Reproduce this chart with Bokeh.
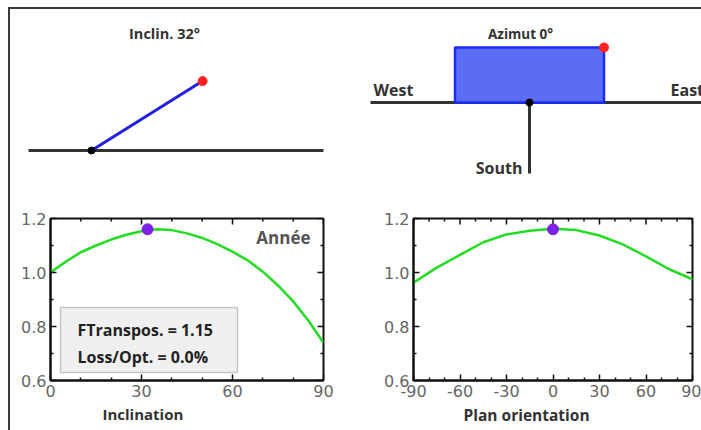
import math
from bokeh.plotting import figure
from bokeh.models import (Range1d, LinearAxis, FixedTicker, PrintfTickFormatter,
                          Label, BoxAnnotation, Div, Spacer, Title)
from bokeh.layouts import column, row
from bokeh.core.properties import value
from bokeh.embed import file_html
from bokeh.resources import INLINE

# ---------------- data ----------------
tilt_deg = 32
azimuth_deg = 0
transpos_factor = 1.15
loss_opt_pct = 0.0
opt_factor = 1.16

incl_x = [0, 5, 10, 15, 20, 25, 30, 35, 40, 45, 50, 55, 60, 65, 70, 75, 80, 85, 90]
incl_y = [1.00, 1.04, 1.075, 1.10, 1.122, 1.14, 1.153, 1.16, 1.157, 1.145, 1.128,
          1.105, 1.077, 1.045, 1.003, 0.952, 0.893, 0.822, 0.74]

orient_x = [-90, -75, -60, -45, -30, -15, 0, 15, 30, 45, 60, 75, 90]
orient_y = [0.962, 1.018, 1.065, 1.112, 1.141, 1.155, 1.162, 1.157, 1.137, 1.104,
            1.06, 1.012, 0.975]

y_ticks = [0.6, 0.8, 1.0, 1.2]
y_minor = [0.7, 0.9, 1.1]
incl_ticks = [0, 30, 60, 90]
incl_minor = [10, 20, 40, 50, 70, 80]
orient_ticks = [-90, -60, -30, 0, 30, 60, 90]
orient_minor = [-80, -70, -50, -40, -20, -10, 10, 20, 40, 50, 70, 80]

BOLD_FONT = "Open Sans"
TICK_FONT = "DejaVu Sans"
DARK = "#333333"
FRAME = "#111111"


def sketch(w, h):
    p = figure(width=w, height=h, x_range=Range1d(0, w), y_range=Range1d(0, h),
               output_backend="svg", toolbar_location=None, min_border=0,
               x_axis_type=None, y_axis_type=None)
    p.outline_line_color = None
    p.background_fill_color = "white"
    p.border_fill_color = "white"
    return p


def txt(p, x, y, s, align="center", size="13px", color=DARK):
    p.text(x=[x], y=[y], text=[s], text_align=align, text_baseline="middle",
           text_font=value(BOLD_FONT), text_font_style="bold",
           text_font_size=size, text_color=color)


# ---------- top-left : inclination sketch ----------
s1 = sketch(340, 191)
s1.line([18, 313], [50, 50], line_color=DARK, line_width=3)
L = 131
bx, by = 81, 50
ex = bx + L * math.cos(math.radians(tilt_deg))
ey = by + L * math.sin(math.radians(tilt_deg))
s1.line([bx, ex], [by, ey], line_color="#2020e0", line_width=3)
s1.scatter([bx], [by], size=7, color="black")
s1.scatter([ex], [ey], size=9, color="#ff2020")
txt(s1, 154, 167, f"Inclin. {tilt_deg}°", size="14.5px")

# ---------- top-right : azimuth sketch ----------
s2 = sketch(351, 191)
s2.line([20, 351], [98, 98], line_color=DARK, line_width=3)
cx, cy = 179, 98
hw, hh = 74.5, 55
a = math.radians(-azimuth_deg)
corners = [(-hw, 0), (hw, 0), (hw, hh), (-hw, hh)]
px = [cx + u * math.cos(a) - v * math.sin(a) for u, v in corners]
py = [cy + u * math.sin(a) + v * math.cos(a) for u, v in corners]
s2.patch(px, py, fill_color="#5b6cf5", line_color="#1a2cff", line_width=2.5)
s2.line([cx, cx], [cy, 27], line_color=DARK, line_width=3)
s2.scatter([cx], [cy], size=7, color="black")
s2.scatter([px[2]], [py[2]], size=9, color="#ff2020")
txt(s2, 170, 167, f"Azimut {azimuth_deg}°", size="13.5px")
txt(s2, 23, 111, "West", align="left", size="16px")
txt(s2, 320, 111, "East", align="left", size="16px")
txt(s2, 172, 33, "South", align="right", size="16px")


# ---------- bottom charts ----------
def style_axis(ax):
    ax.axis_line_color = FRAME
    ax.axis_line_width = 2
    ax.major_tick_in = 6
    ax.major_tick_out = 0
    ax.minor_tick_in = 3
    ax.minor_tick_out = 0
    ax.major_tick_line_color = FRAME
    ax.minor_tick_line_color = FRAME
    ax.major_tick_line_width = 1.5
    ax.minor_tick_line_width = 1.5
    ax.major_label_text_font = TICK_FONT
    ax.major_label_text_font_size = "16px"
    ax.major_label_text_color = "#666666"
    ax.major_label_standoff = 4


def chart(w, xr, xt, xm, mbl, mbr, xtitle, title_offset, title_size):
    p = figure(width=w, height=228, x_range=Range1d(*xr), y_range=Range1d(0.6, 1.2),
               output_backend="svg", toolbar_location=None,
               x_axis_type=None, y_axis_type=None,
               min_border_left=mbl, min_border_right=mbr,
               min_border_top=18, min_border_bottom=47)
    p.outline_line_color = FRAME
    p.outline_line_width = 2
    bx_ = LinearAxis(ticker=FixedTicker(ticks=xt, minor_ticks=xm),
                     formatter=PrintfTickFormatter(format="%d"))
    style_axis(bx_)
    p.add_layout(bx_, "below")
    ly_ = LinearAxis(ticker=FixedTicker(ticks=y_ticks, minor_ticks=y_minor),
                     formatter=PrintfTickFormatter(format="%.1f"))
    style_axis(ly_)
    p.add_layout(ly_, "left")
    p.add_layout(Title(text=xtitle, align="left", offset=title_offset, standoff=5,
                       text_font=BOLD_FONT, text_font_style="bold",
                       text_font_size=title_size, text_color=DARK), "below")
    # inner ticks on the top and right frame edges
    top = p.y_range.end
    right = p.x_range.end
    p.ray(x=xt, y=[top] * len(xt), length=6, length_units="screen",
          angle=-math.pi / 2, line_color=FRAME, line_width=1.5)
    p.ray(x=xm, y=[top] * len(xm), length=3, length_units="screen",
          angle=-math.pi / 2, line_color=FRAME, line_width=1.5)
    p.ray(x=[right] * len(y_ticks), y=y_ticks, length=6, length_units="screen",
          angle=math.pi, line_color=FRAME, line_width=1.5)
    p.ray(x=[right] * len(y_minor), y=y_minor, length=3, length_units="screen",
          angle=math.pi, line_color=FRAME, line_width=1.5)
    return p


def label(p, x, y, s, align="center", size="13px", color=DARK):
    p.add_layout(Label(x=x, y=y, x_units="screen", y_units="screen", text=s,
                       text_align=align, text_baseline="middle",
                       text_font=BOLD_FONT, text_font_style="bold",
                       text_font_size=size, text_color=color))


p1 = chart(340, (0, 90), incl_ticks, incl_minor, 40, 27, "Inclination", 52, "15px")
p1.add_layout(BoxAnnotation(left=10, right=187, bottom=8, top=73,
                            left_units="screen", right_units="screen",
                            bottom_units="screen", top_units="screen",
                            fill_color="#f0f0f0", fill_alpha=1.0,
                            line_color="#555555", line_width=1.5))
p1.line(incl_x, incl_y, line_color="#22dd22", line_width=2.5)
p1.scatter([tilt_deg], [opt_factor], size=11, color="#7b22e6")
label(p1, 260, 143, "Année", align="right", size="17px", color="#555555")
label(p1, 27, 51, f"FTranspos. = {transpos_factor:.2f}", align="left", size="16px",
      color="#222222")
label(p1, 27, 24, f"Loss/Opt. = {loss_opt_pct:.1f}%", align="left", size="16px",
      color="#222222")

p2 = chart(351, (-90, 90), orient_ticks, orient_minor, 63, 9, "Plan orientation", 50,
           "15.5px")
p2.line(orient_x, orient_y, line_color="#22dd22", line_width=2.5)
p2.scatter([azimuth_deg], [opt_factor], size=11, color="#7b22e6")

BORDER = "#3a3a3a"
top_bar = Div(width=691, height=2, margin=0, styles={"background-color": BORDER})
left_bar = Div(width=2, height=423, margin=0, styles={"background-color": BORDER})
inner = column(top_bar, row(s1, s2), row(p1, p2))
layout = column(Spacer(width=1, height=7, margin=0),
                row(Spacer(width=8, height=1, margin=0), left_bar, inner))

open("out.html", "w").write(file_html(layout, INLINE))
